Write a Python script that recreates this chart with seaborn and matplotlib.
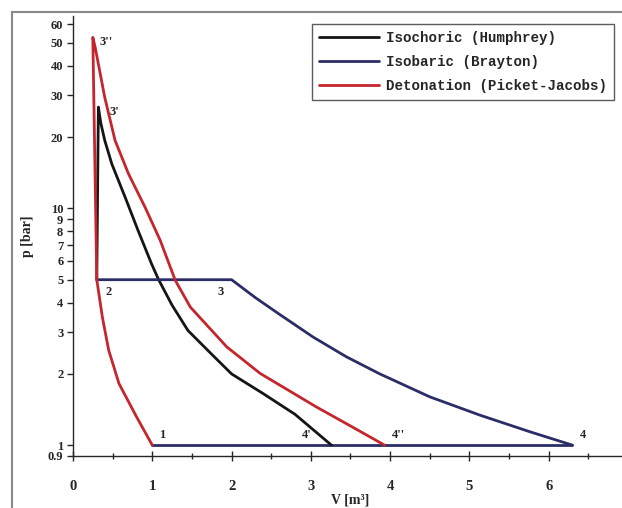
import numpy as np
import pandas as pd
import matplotlib
matplotlib.use("Agg")
import matplotlib.pyplot as plt
from matplotlib.patches import Rectangle
from matplotlib.ticker import FixedLocator, FixedFormatter, NullFormatter
import seaborn as sns

# compression 1 -> 2 (shared by all cycles)
comp_V = [1.0, 0.80, 0.58, 0.45, 0.37, 0.30]
comp_p = [1.0, 1.32, 1.82, 2.52, 3.48, 5.0]

# Humphrey: 2 -> 3' -> 4'
hum_V = [0.30, 0.32, 0.35, 0.40, 0.49, 0.66, 0.82, 0.99, 1.08, 1.25, 1.45, 1.75, 2.0, 2.4, 2.8, 3.26]
hum_p = [5.0, 26.8, 23.0, 19.4, 15.4, 11.1, 8.08, 5.84, 5.0, 3.9, 3.05, 2.42, 2.0, 1.65, 1.35, 1.0]

# Brayton: 2 -> 3 -> 4
bra_V = [0.30, 2.0, 2.3, 2.61, 3.03, 3.45, 3.87, 4.5, 5.13, 5.76, 6.3]
bra_p = [5.0, 5.0, 4.2, 3.56, 2.86, 2.36, 2.0, 1.6, 1.34, 1.14, 1.0]

# Detonation: 2 -> 3'' -> 4''
det_V = [0.30, 0.25, 0.28, 0.40, 0.53, 0.70, 0.91, 1.10, 1.29, 1.48, 1.94, 2.36, 3.07, 3.53, 3.93]
det_p = [5.0, 52.8, 47.9, 29.5, 19.4, 14.0, 10.1, 7.33, 4.97, 3.83, 2.6, 2.01, 1.45, 1.19, 1.0]

# heat rejection 4 -> 1
rej_V = [6.3, 1.0]
rej_p = [1.0, 1.0]

point_names = ["1", "2", "3", "3'", "3''", "4'", "4''", "4"]
point_V = [1.0, 0.30, 2.0, 0.32, 0.25, 3.26, 3.93, 6.3]
point_p = [1.0, 5.0, 5.0, 26.8, 52.8, 1.0, 1.0, 1.0]

x_ticks = [0, 1, 2, 3, 4, 5, 6]
y_ticks = [0.9, 1, 2, 3, 4, 5, 6, 7, 8, 9, 10, 20, 30, 40, 50, 60]
y_labels = ["0.9", "1", "2", "3", "4", "5", "6", "7", "8", "9", "10", "20", "30", "40", "50", "60"]

black = "#151515"
navy = "#2b2d66"
red = "#c5262e"

sns.set_style("ticks")
plt.rcParams['font.family'] = ['Liberation Serif', 'DejaVu Serif']

fig = plt.figure(figsize=(6.22, 5.08), dpi=100)
ax = fig.add_axes([73 / 622, 52 / 508, 555 / 622, 440 / 508])

lw = 2.0
sns.lineplot(x=rej_V, y=rej_p, sort=False, estimator=None, color=navy, lw=lw, ax=ax)
sns.lineplot(x=hum_V, y=hum_p, sort=False, estimator=None, color=black, lw=lw, ax=ax,
             label="Isochoric (Humphrey)")
sns.lineplot(x=bra_V, y=bra_p, sort=False, estimator=None, color=navy, lw=lw, ax=ax,
             label="Isobaric (Brayton)")
sns.lineplot(x=det_V, y=det_p, sort=False, estimator=None, color=red, lw=lw, ax=ax,
             label="Detonation (Picket-Jacobs)")
sns.lineplot(x=comp_V, y=comp_p, sort=False, estimator=None, color=red, lw=lw, ax=ax)

ax.set_yscale("log")
ax.set_xlim(0, 7)
ax.set_ylim(0.9, 65)

ax.xaxis.set_major_locator(FixedLocator(x_ticks))
ax.xaxis.set_minor_locator(FixedLocator(np.arange(0.5, 7, 1.0)))
ax.yaxis.set_major_locator(FixedLocator(y_ticks))
ax.yaxis.set_major_formatter(FixedFormatter(y_labels))
ax.yaxis.set_minor_locator(FixedLocator([]))
ax.yaxis.set_minor_formatter(NullFormatter())
ax.tick_params(axis="x", which="major", direction="inout", length=7, width=1, labelsize=10.5, pad=14)
ax.tick_params(axis="x", which="minor", direction="inout", length=4, width=1)
ax.tick_params(axis="y", which="major", direction="out", length=4, width=1, labelsize=9, pad=3)
for lab in ax.get_xticklabels() + ax.get_yticklabels():
    lab.set_fontweight("bold")

ax.spines["top"].set_visible(False)
ax.spines["right"].set_visible(False)
ax.spines["left"].set_linewidth(1.0)
ax.spines["bottom"].set_linewidth(1.0)

ax.set_xlabel("V [m³]", fontsize=10, fontweight="bold", labelpad=0)
ax.set_ylabel("p [bar]", fontsize=10, fontweight="bold", labelpad=10)

offsets = {"1": (5, 3), "2": (6, -13), "3": (-10, -13), "3'": (8, -8), "3''": (5, -8),
           "4'": (-21, 3), "4''": (5, 3), "4": (5, 3)}
for name, v, p in zip(point_names, point_V, point_p):
    ax.annotate(name, (v, p), xytext=offsets[name], textcoords="offset points",
                fontsize=9, fontweight="bold", ha="left", va="bottom")

leg = ax.legend(loc="upper left", bbox_to_anchor=((312 - 73) / 555, 1 - 8 / 440),
                frameon=True, fancybox=False, edgecolor="#333333", handlelength=4.2,
                handletextpad=0.5, borderaxespad=0, labelspacing=0.7, borderpad=0.5,
                prop={"family": "Liberation Mono", "size": 10.2, "weight": "bold"})
leg.get_frame().set_linewidth(1.0)

fig.patches.append(Rectangle((12 / 622, -0.1), 1.0, 1.1 - 12 / 508, transform=fig.transFigure,
                             fill=False, edgecolor="#888888", lw=1.5))

fig.savefig("out.png", dpi=100)
